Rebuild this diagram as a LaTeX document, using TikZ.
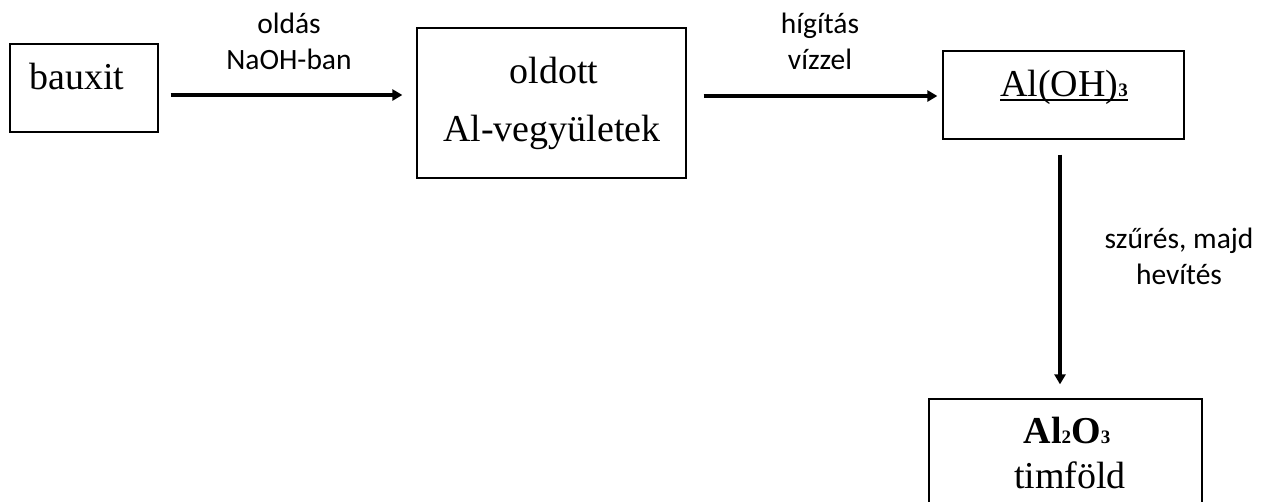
\documentclass[tikz,border=0pt]{standalone}
\usepackage{fontspec}
\setmainfont{Liberation Serif}
\newfontfamily\labelfont{Carlito}
\usetikzlibrary{arrows.meta}
\newcommand\chemsub[1]{{\fontsize{19}{19}\selectfont\bfseries #1}}
\newcommand\thickul[1]{{\setbox0\hbox{#1}\rlap{\rule[-5pt]{\wd0}{1.8pt}}\box0}}
\begin{document}
\begin{tikzpicture}[x=1pt,y=-1pt,
  box/.style={draw, line width=1.3pt, inner sep=0pt},
  boxtext/.style={font=\fontsize{38}{58}\selectfont, inner sep=0pt, anchor=base},
  lbl/.style={font=\labelfont\fontsize{29.5}{36}\selectfont, align=center, inner sep=0pt},
  arr/.style={line width=4pt, -{Triangle[length=10pt,width=11pt]}}]
\useasboundingbox (0,0) rectangle (1271,501);
\clip (0,0) rectangle (1271,501);
% boxes
\node[box, minimum width=148pt, minimum height=88pt] (bauxit) at (84,88) {};
\node[box, minimum width=269pt, minimum height=150pt] (oldott) at (551.5,103) {};
\node[box, minimum width=241pt, minimum height=88pt] (aloh) at (1063.5,95) {};
\node[box, minimum width=273pt, minimum height=161pt] (alox) at (1065.5,479.5) {};
% texts
\node[boxtext] (tb) at (77,89) {bauxit};
\node[boxtext] (t2a) at (554,83) {oldott};
\node[boxtext] (t2b) at (552,141) {Al-vegyületek};
\node[boxtext] (t3) at (1064,96) {\thickul{Al(OH)\chemsub{3}}};
\node[boxtext] (t4a) at (1067,443) {\bfseries Al\chemsub{2}O\chemsub{3}};
\node[boxtext] (t4b) at (1070,488) {timföld};
% arrows
\coordinate (r1) at (0,95);
\coordinate (r2) at (0,96);
\coordinate (c3) at (1060,0);
\draw[arr, shorten <=12pt, shorten >=14pt] (bauxit.east |- r1) -- (oldott.west |- r1);
\draw[arr, shorten <=17pt, shorten >=5pt] (oldott.east |- r2) -- (aloh.west |- r2);
\draw[arr, shorten <=15pt, shorten >=14pt] (aloh.south -| c3) -- (alox.north -| c3);
% labels
\node[lbl] (l1) at (289,41) {oldás\\NaOH-ban};
\node[lbl] (l2) at (820,41) {hígítás\\vízzel};
\node[lbl] (l3) at (1179,256) {szűrés, majd\\hevítés};
\end{tikzpicture}
\end{document}
